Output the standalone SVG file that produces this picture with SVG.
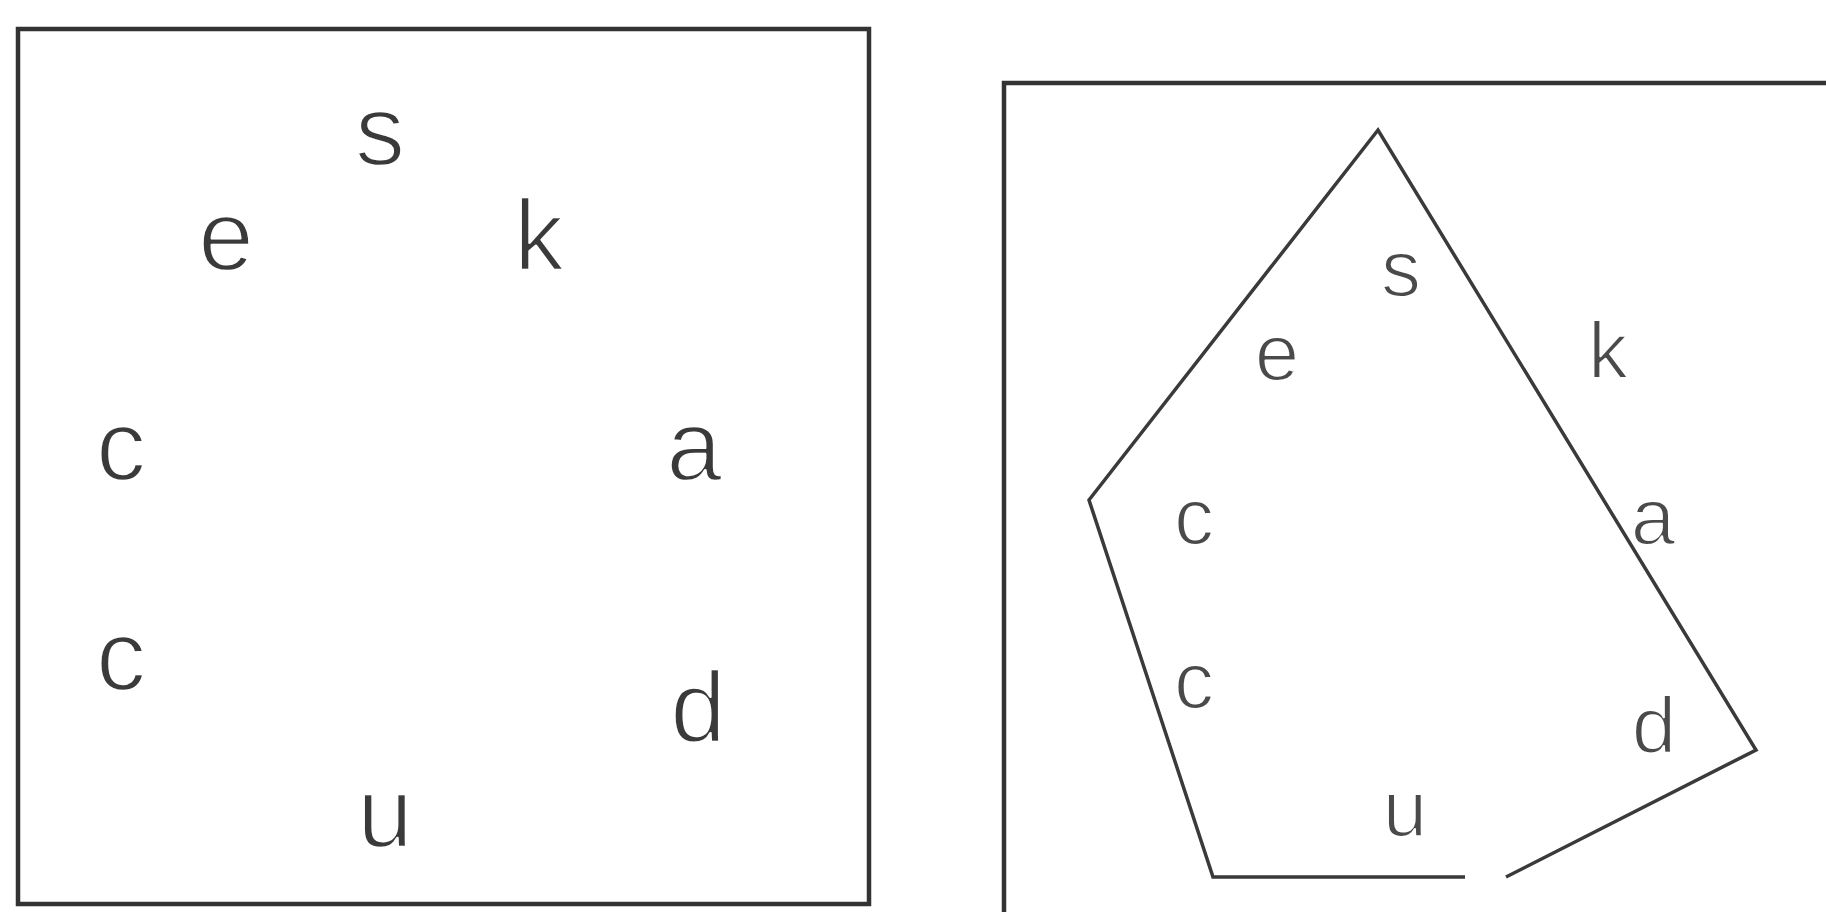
<svg xmlns="http://www.w3.org/2000/svg" width="1826" height="912" viewBox="0 0 1826 912">
<style>
.frame{fill:none;stroke:#333;stroke-width:4.5}
.edge{fill:none;stroke:#3a3a3a;stroke-width:3.5;stroke-linejoin:miter}
.big{font-family:"Liberation Sans",Arial,sans-serif;font-size:100px;fill:#3a3a3a;text-anchor:middle;stroke:#fff;stroke-width:2.4;stroke-linejoin:round}
.small{font-family:"Liberation Sans",Arial,sans-serif;font-size:80px;fill:#4a4a4a;text-anchor:middle;stroke:#fff;stroke-width:2;stroke-linejoin:round}
</style>
<rect width="1826" height="912" fill="#ffffff"/>
<g id="left-panel">
<rect class="frame" x="18" y="29" width="851" height="875"/>
<text class="big" x="380" y="165">s</text>
<text class="big" x="226" y="270">e</text>
<text class="big" x="539" y="270">k</text>
<text class="big" x="121" y="480">c</text>
<text class="big" x="694" y="480">a</text>
<text class="big" x="121" y="690">c</text>
<text class="big" x="698" y="742">d</text>
<text class="big" x="385" y="847">u</text>
</g>
<g id="right-panel">
<path class="frame" d="M1004,912 L1004,83 L1826,83"/>
</g>
<g id="connectors">
<polyline class="edge" points="1465,877 1213,877 1089,500 1378,130 1756,750 1506,877"/>
</g>
<g id="right-labels">
<text class="small" x="1401" y="296">s</text>
<text class="small" x="1277" y="380">e</text>
<text class="small" x="1608" y="378">k</text>
<text class="small" x="1194" y="544">c</text>
<text class="small" x="1653" y="544">a</text>
<text class="small" x="1194" y="708">c</text>
<text class="small" x="1654" y="753">d</text>
<text class="small" x="1405" y="836">u</text>
</g>
</svg>
